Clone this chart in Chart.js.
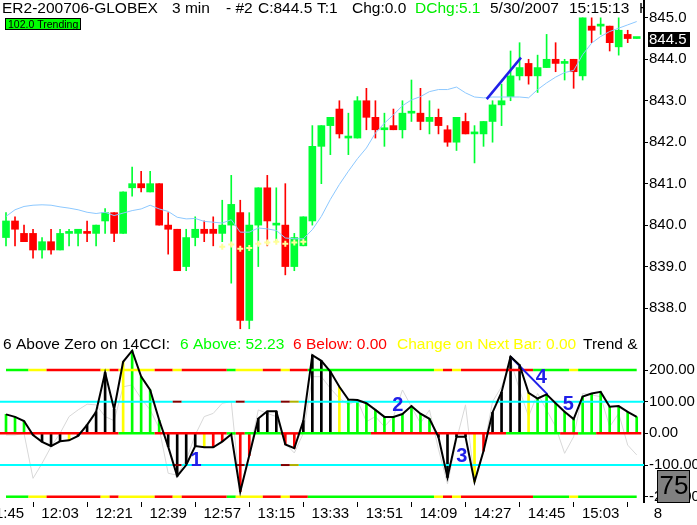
<!DOCTYPE html>
<html>
<head>
<meta charset="utf-8">
<title>ER2-200706-GLOBEX 3 min</title>
<script src="https://cdn.jsdelivr.net/npm/chart.js@4.4.1/dist/chart.umd.min.js"></script>
<style>
    html, body { margin: 0; padding: 0; background: #ffffff; }
    #board { position: relative; width: 697px; height: 525px; overflow: hidden; }
    #board canvas { position: absolute; left: 0; }
    #priceChart { top: 0; }
    #cciChart { top: 330px; }
</style>
</head>
<body>
<div id="board">
    <canvas id="priceChart" width="697" height="330"></canvas>
    <canvas id="cciChart" width="697" height="195"></canvas>
</div>
<script>
// 3 minute bars, 11:45 .. 15:15
var timeLabels = ['11:45', '12:03', '12:21', '12:39', '12:57', '13:15', '13:33', '13:51', '14:09', '14:27', '14:45', '15:03'];
var tickBars = [0, 6, 12, 18, 24, 30, 36, 42, 48, 54, 60, 66];
var priceTicks = [838, 839, 840, 841, 842, 843, 844, 845];
var cciTicks = [-200, -100, 0, 100, 200];

var opens = [839.7, 840.1, 839.8, 839.8, 839.4, 839.6, 839.4, 839.8, 839.8, 839.8,
    839.8, 840.1, 840.3, 839.8, 840.9, 841.0, 840.8, 841.0, 840.0, 839.9,
    839.0, 839.7, 839.9, 839.9, 839.8, 840.0, 840.3, 837.7, 840.0, 840.9,
    840.0, 840.0, 839.0, 839.5, 840.1, 841.9, 842.4, 842.8, 842.1, 842.1,
    843.0, 842.6, 842.3, 842.4, 842.3, 842.7, 842.7, 842.5, 842.6, 842.3,
    842.0, 842.5, 842.2, 842.2, 842.5, 842.9, 843.1, 843.6, 843.9, 843.6,
    843.8, 844.0, 843.9, 844.0, 843.6, 844.8, 844.8, 844.8, 844.3, 844.6, 844.5];
var highs = [840.3, 840.2, 840.0, 839.9, 839.7, 839.9, 839.9, 839.9, 839.9, 840.1,
    840.0, 840.4, 840.3, 840.8, 841.4, 841.3, 841.3, 841.0, 840.3, 839.9,
    839.9, 840.2, 840.1, 840.2, 840.6, 841.2, 840.6, 840.3, 840.9, 841.2,
    840.9, 841.0, 839.8, 840.2, 842.4, 842.4, 842.6, 843.0, 842.7, 843.1,
    843.3, 843.0, 842.7, 842.8, 843.0, 843.5, 843.3, 843.0, 842.8, 842.4,
    842.6, 842.7, 842.4, 842.5, 843.0, 843.4, 844.2, 844.4, 844.0, 844.1,
    844.6, 844.4, 844.0, 844.0, 845.0, 845.0, 845.0, 844.8, 845.0, 844.7, 844.5];
var lows = [839.5, 839.5, 839.6, 839.2, 839.2, 839.3, 839.4, 839.5, 839.5, 839.6,
    839.5, 839.8, 839.6, 839.8, 840.7, 840.8, 840.8, 840.0, 839.3, 838.9,
    838.9, 839.5, 839.6, 839.5, 839.6, 838.6, 837.5, 837.5, 839.0, 839.5,
    839.6, 838.8, 838.9, 839.5, 840.0, 841.0, 841.7, 842.1, 841.7, 842.1,
    842.3, 842.1, 841.9, 842.3, 842.1, 842.5, 842.3, 842.2, 842.2, 841.9,
    841.8, 842.2, 841.5, 841.9, 842.0, 842.4, 843.0, 843.5, 843.4, 843.2,
    843.8, 843.7, 843.5, 843.3, 843.5, 844.4, 844.6, 844.2, 844.1, 844.4, 844.5];
var closes = [840.1, 839.9, 839.6, 839.4, 839.6, 839.4, 839.8, 839.8, 839.9, 839.8,
    840.0, 840.3, 839.8, 840.8, 841.0, 840.9, 841.0, 840.0, 839.9, 838.9,
    839.7, 839.9, 839.8, 839.8, 840.0, 840.5, 837.7, 840.0, 840.9, 840.1,
    840.0, 839.0, 839.7, 840.2, 841.9, 842.4, 842.6, 842.2, 842.1, 843.0,
    842.6, 842.3, 842.3, 842.3, 842.7, 842.7, 842.5, 842.6, 842.4, 842.0,
    842.6, 842.2, 842.2, 842.5, 842.9, 843.0, 843.6, 843.8, 843.6, 843.8,
    844.0, 843.9, 843.9, 843.7, 845.0, 844.7, 844.8, 844.4, 844.7, 844.5, 844.5];
var downDojis = [9];

var avgLine = [840.21, 840.37, 840.45, 840.48, 840.49, 840.48, 840.44, 840.41, 840.37, 840.31,
    840.28, 840.31, 840.23, 840.29, 840.35, 840.39, 840.48, 840.39, 840.33, 840.19,
    840.15, 840.16, 840.09, 840.07, 840.05, 840.13, 839.83, 839.83, 839.93, 839.91,
    839.87, 839.69, 839.67, 839.67, 839.89, 840.21, 840.62, 840.98, 841.30, 841.60,
    841.86, 842.22, 842.46, 842.66, 842.88, 843.02, 843.10, 843.22, 843.27, 843.27,
    843.33, 843.19, 843.09, 843.07, 843.09, 843.09, 843.09, 843.09, 843.07, 843.27,
    843.43, 843.57, 843.68, 843.73, 844.11, 844.39, 844.55, 844.67, 844.75, 844.83, 844.91];

var stopBars = [24, 25, 26, 27, 28, 29, 30, 31, 32, 33];
var stopValues = [839.48, 839.53, 839.43, 839.45, 839.55, 839.58, 839.60, 839.55, 839.58, 839.60];

var priceTrend = [{ x: 53.35, y: 843.04 }, { x: 57.16, y: 844.04 }];
var cciTrend = [{ x: 56.0, y: 242 }, { x: 60.1, y: 123 }];

var cci14 = [60, 52, 39, -5, -27, -40, -25, -22, -8, 27,
    68, 192, 76, 226, 261, 179, 137, 42, -42, -135,
    -100, -40, -44, -44, -26, -3, -184, -70, 47, 70,
    70, -35, -47, 40, 247, 229, 195, 147, 107, 105,
    95, 74, 52, 52, 61, 86, 62, 46, -12, -139,
    -11, -11, -153, -56, 66, 130, 242, 216, 128, 110,
    123, 95, 68, 45, 116, 126, 131, 84, 86, 68, 52.23];
var cci6 = [-5, -5, 0, -142, -95, -42, 0, 53, 74, 92,
    90, 53, 40, 147, 153, 110, 74, 16, -126, -132,
    -84, -5, 53, 63, 95, 100, -184, -63, 74, 63,
    53, -32, -62, 0, 179, 179, 142, 111, 90, 105,
    37, 53, 21, 53, 137, 84, 32, 74, -50, -160,
    -20, 90, -150, -50, 100, 147, 230, 137, 53, 126,
    74, 21, -63, -11, 126, 121, 116, 21, 63, -37, -68];

// per bar states: G green, K black, Y yellow, R red, C cyan, D dark red, O olive
var histState = ('GGGKKKKYKK' + 'KKKYGGGGKK' + 'KKYRRRRRKK' + 'KRRKKKKYGG' +
    'GGGGGGGGKK' + 'KKYRKKKKYG' + 'GGGGGGGGGGG').split('');
var outerState = ('GGGYYRRRRR' + 'RYRYYYYRRY' + 'RRRRRGYYYR' + 'RYRRGGGGGG' +
    'GGGGGGGGYR' + 'YRRRRRRRRG' + 'GGGYGGGGGGG').split('');
var zeroState = ('RRRRRRRRRR' + 'RRRGGGGRRR' + 'RRRRRGRGGG' + 'GRRGGGGGGG' +
    'GRRRRRRRRR' + 'RRRRRRGGGG' + 'GGRRGGRRRRR').split('');
var midState = ('CCCCCCCCCC' + 'CCCCCCCCCD' + 'CCCCCCDCCC' + 'CDOCCCCCCC' +
    'CCCCCCCCCC' + 'CCCCCCCCCC' + 'CCCCCCCCCCC').split('');

var waveLabels = [
    { text: '1', x: 21.1, y: -84 },
    { text: '2', x: 43.5, y: 91 },
    { text: '3', x: 50.6, y: -71 },
    { text: '4', x: 59.4, y: 179 },
    { text: '5', x: 62.4, y: 95 }
];

var FONT = '"Liberation Sans", Arial, sans-serif';
var UP = '#00ff33';
var DOWN = '#ff0000';
var palette = { G: '#00ff00', K: '#000000', Y: '#ffff00', R: '#ff0000', C: '#00ffff', D: '#800000', O: '#b0b000' };
var xMin = -0.666;
var xMax = 70.81;

var candleColors = closes.map(function (c, i) {
    if (c > opens[i]) return UP;
    if (c < opens[i]) return DOWN;
    return downDojis.indexOf(i) >= 0 ? DOWN : UP;
});

function points(values, xs) {
    return values.map(function (v, i) { return { x: xs ? xs[i] : i, y: v }; });
}

function levelLine(value, states, x0, x1, width) {
    var pts = [{ x: x0, y: value }];
    for (var i = 0; i < states.length - 1; i++) {
        pts.push({ x: i + 0.5, y: value });
    }
    pts.push({ x: x1, y: value });
    return {
        type: 'line',
        data: pts,
        borderWidth: width,
        borderColor: palette[states[0]],
        pointRadius: 0,
        segment: { borderColor: function (ctx) { return palette[states[ctx.p0DataIndex]]; } },
        order: 1
    };
}

function drawRuns(ctx, runs, baseline, clipRight, size) {
    ctx.save();
    ctx.beginPath();
    ctx.rect(0, 0, clipRight, ctx.canvas.height);
    ctx.clip();
    ctx.font = size + 'px ' + FONT;
    ctx.textBaseline = 'alphabetic';
    ctx.textAlign = 'left';
    runs.forEach(function (r) {
        ctx.fillStyle = r.color;
        ctx.fillText(r.text, r.x, baseline);
    });
    ctx.restore();
}

function rightAxis(min, max, ticks, digits) {
    return {
        position: 'right',
        min: min,
        max: max,
        stacked: false,
        afterBuildTicks: function (s) { s.ticks = ticks.map(function (v) { return { value: v }; }); },
        afterFit: function (s) { s.width = 53; s.paddingTop = 0; s.paddingBottom = 0; },
        grid: { drawOnChartArea: false, drawTicks: true, tickLength: 4, color: '#000' },
        border: { display: true, color: '#000', width: 2 },
        ticks: {
            color: '#000',
            padding: 1,
            font: { family: FONT, size: 15 },
            callback: function (v) { return Number(v).toFixed(digits); }
        }
    };
}

var lastClose = closes[closes.length - 1];

var headerRuns = [
    { text: 'ER2-200706-GLOBEX', x: 2, color: '#000' },
    { text: '3 min', x: 172, color: '#000' },
    { text: '- #2', x: 226, color: '#000' },
    { text: 'C:' + lastClose.toFixed(1), x: 258, color: '#000' },
    { text: 'T:1', x: 317, color: '#000' },
    { text: 'Chg:0.0', x: 352, color: '#000' },
    { text: 'DChg:5.1', x: 415, color: '#00ee00' },
    { text: '5/30/2007', x: 490, color: '#000' },
    { text: '15:15:13', x: 569, color: '#000' },
    { text: 'H', x: 639, color: '#000' }
];

var legendRuns = [
    { text: '6 Above Zero on 14CCI:', x: 3, color: '#000' },
    { text: '6 Above: ' + cci14[cci14.length - 1].toFixed(2), x: 180, color: '#00ff00' },
    { text: '6 Below: 0.00', x: 293, color: '#ff0000' },
    { text: 'Change on Next Bar: 0.00', x: 397, color: '#ffff00' },
    { text: 'Trend & I', x: 583, color: '#000' }
];

var priceDecor = {
    id: 'priceDecor',
    afterDraw: function (chart) {
        var ctx = chart.ctx;
        var yScale = chart.scales.y;
        drawRuns(ctx, headerRuns, 13, 643, 15.5);

        // state box
        ctx.save();
        ctx.fillStyle = '#00ff00';
        ctx.fillRect(5, 18, 76, 12);
        ctx.strokeStyle = '#000';
        ctx.lineWidth = 1;
        ctx.strokeRect(5.5, 18.5, 75, 11);
        ctx.fillStyle = '#000';
        ctx.font = '10.5px ' + FONT;
        ctx.textBaseline = 'alphabetic';
        ctx.fillText('102.0 Trending', 8, 28);

        // last price marker
        var py = yScale.getPixelForValue(lastClose);
        ctx.fillStyle = '#000';
        ctx.fillRect(648, Math.round(py) - 7, 42, 15);
        ctx.fillStyle = '#fff';
        ctx.font = '15px ' + FONT;
        ctx.textBaseline = 'middle';
        ctx.fillText(lastClose.toFixed(1), 649, py + 1);
        ctx.restore();
    }
};

var cciDecor = {
    id: 'cciDecor',
    afterDraw: function (chart) {
        var ctx = chart.ctx;
        var xs = chart.scales.x;
        var ys = chart.scales.y;
        drawRuns(ctx, legendRuns, 19, 643, 15.5);

        ctx.save();
        ctx.font = '15px ' + FONT;
        ctx.fillStyle = '#000';
        ctx.textAlign = 'center';
        ctx.textBaseline = 'alphabetic';
        tickBars.forEach(function (b, k) {
            ctx.fillText(timeLabels[k], xs.getPixelForValue(b), 188);
        });
        ctx.fillText('8', 658, 188);

        ctx.font = 'bold 20px ' + FONT;
        ctx.fillStyle = '#2020e8';
        ctx.textBaseline = 'middle';
        waveLabels.forEach(function (w) {
            ctx.fillText(w.text, xs.getPixelForValue(w.x), ys.getPixelForValue(w.y) + 1);
        });

        // bars counter box
        ctx.fillStyle = '#808080';
        ctx.fillRect(657, 140, 33, 33);
        ctx.strokeStyle = '#000';
        ctx.lineWidth = 1;
        ctx.strokeRect(657.5, 140.5, 32, 32);
        ctx.fillStyle = '#000';
        ctx.font = '26px ' + FONT;
        ctx.fillText('75', 674, 157);
        ctx.restore();
    }
};

var baseOptions = function (yAxis, xAxis) {
    return {
        responsive: false,
        animation: false,
        devicePixelRatio: 1,
        events: [],
        layout: { padding: 0, autoPadding: false },
        plugins: { legend: { display: false }, tooltip: { enabled: false } },
        scales: { x: xAxis, y: yAxis }
    };
};

new Chart(document.getElementById('priceChart'), {
    type: 'bar',
    data: {
        datasets: [
            { type: 'line', data: priceTrend, borderColor: '#2020e8', borderWidth: 2.5, pointRadius: 0, order: 0 },
            { type: 'line', data: points(avgLine), borderColor: '#8cc8ff', borderWidth: 1, pointRadius: 0, order: 1 },
            {
                type: 'line', data: points(stopValues, stopBars), showLine: false,
                pointStyle: 'cross', pointRadius: 3, borderColor: '#ffff99', borderWidth: 2, order: 2
            },
            {
                type: 'bar', data: opens.map(function (o, i) { return { x: i, y: [o, closes[i]] }; }),
                backgroundColor: candleColors, barThickness: 7, minBarLength: 2, stack: 'c', order: 3
            },
            {
                type: 'bar', data: lows.map(function (l, i) { return { x: i, y: [l, highs[i]] }; }),
                backgroundColor: candleColors, barThickness: 1, stack: 'c', order: 4
            }
        ]
    },
    options: baseOptions(
        rightAxis(837.47, 845.43, priceTicks, 1),
        { type: 'linear', min: xMin, max: xMax, offset: false, display: false }
    ),
    plugins: [priceDecor]
});

new Chart(document.getElementById('cciChart'), {
    type: 'bar',
    data: {
        datasets: [
            { type: 'line', data: points(cci14), borderColor: '#000', borderWidth: 2, pointRadius: 0, order: 0 },
            { type: 'line', data: cciTrend, borderColor: '#2020e8', borderWidth: 2, pointRadius: 0, order: 0 },
            levelLine(200, outerState, 0, 70, 2.5),
            levelLine(-200, outerState, 0, 70, 2.5),
            levelLine(100, midState, xMin, xMax, 2),
            levelLine(-100, midState, xMin, xMax, 2),
            levelLine(0, zeroState, xMin, xMax - 0.3, 2.5),
            {
                type: 'bar', data: points(cci14),
                backgroundColor: histState.map(function (s) { return palette[s]; }),
                barThickness: 2, order: 2
            },
            { type: 'line', data: points(cci6), borderColor: '#d8d8d8', borderWidth: 1, pointRadius: 0, order: 3 }
        ]
    },
    options: baseOptions(
        rightAxis(-216.7, 326.3, cciTicks, 2),
        {
            type: 'linear', min: xMin, max: xMax, offset: false,
            afterBuildTicks: function (s) { s.ticks = tickBars.map(function (v) { return { value: v }; }); },
            afterFit: function (s) { s.height = 23; s.paddingLeft = 0; s.paddingRight = 0; },
            ticks: { display: false },
            grid: { drawOnChartArea: false, drawTicks: true, tickLength: 5, color: '#000' },
            border: { display: false }
        }
    ),
    plugins: [cciDecor]
});
</script>
</body>
</html>
